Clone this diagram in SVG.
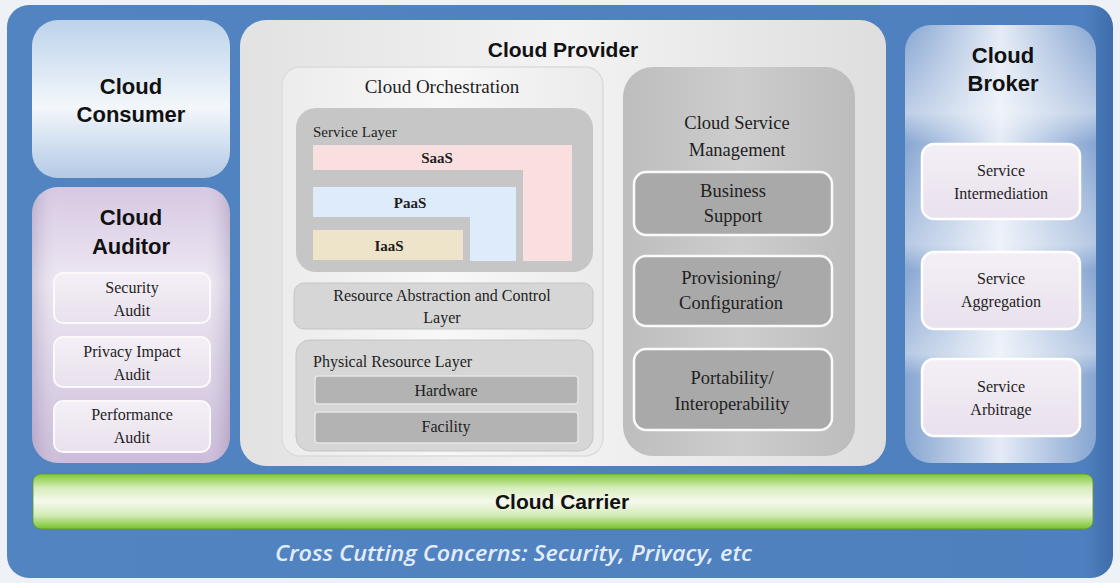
<svg xmlns="http://www.w3.org/2000/svg" width="1120" height="583" viewBox="0 0 1120 583">
  <style>
    .title { font-family: "Liberation Sans", Arial, sans-serif; font-weight: bold; font-size: 22px; fill: #111; text-anchor: middle; }
    .serif { font-family: "Liberation Serif", "Times New Roman", serif; fill: #1e1e1e; text-anchor: middle; }
    .s15 { font-size: 15px; }
    .s16 { font-size: 16px; }
    .s18 { font-size: 18.5px; }
    .s19 { font-size: 19px; }
    .bold { font-weight: bold; }
    .start { text-anchor: start; }
    .subA { fill: url(#gSubLav); stroke: #fbf9fc; stroke-width: 2; }
    .subB { fill: url(#gSubLav); stroke: #ffffff; stroke-width: 2.5; }
    .csm { fill: #a9a9a9; stroke: #fafafa; stroke-width: 2.5; }
    .phys { fill: #b3b3b3; stroke: #e6e6e6; stroke-width: 1.5; }
  </style>
  <defs>
    <linearGradient id="gConsumer" x1="0" y1="0" x2="0" y2="1">
      <stop offset="0" stop-color="#bcd3ea"/>
      <stop offset="0.55" stop-color="#f3f7fb"/>
      <stop offset="1" stop-color="#b3cae5"/>
    </linearGradient>
    <linearGradient id="gAuditor" x1="0" y1="0" x2="0" y2="1">
      <stop offset="0" stop-color="#d6c8e2"/>
      <stop offset="0.35" stop-color="#eee8f3"/>
      <stop offset="1" stop-color="#cbbcd9"/>
    </linearGradient>
    <linearGradient id="gEdge" x1="0" y1="0" x2="1" y2="0">
      <stop offset="0" stop-color="#6f5f8f" stop-opacity="0.25"/>
      <stop offset="0.15" stop-color="#ffffff" stop-opacity="0"/>
      <stop offset="0.85" stop-color="#ffffff" stop-opacity="0"/>
      <stop offset="1" stop-color="#6f5f8f" stop-opacity="0.25"/>
    </linearGradient>
    <linearGradient id="gBroker" x1="0" y1="0" x2="1" y2="0">
      <stop offset="0" stop-color="#87a6d2"/>
      <stop offset="0.5" stop-color="#e4ebf6"/>
      <stop offset="1" stop-color="#86a5d1"/>
    </linearGradient>
    <linearGradient id="gBands" x1="0" y1="0" x2="0" y2="1">
      <stop offset="0" stop-color="#ffffff" stop-opacity="0"/>
      <stop offset="0.2" stop-color="#ffffff" stop-opacity="0.45"/>
      <stop offset="0.27" stop-color="#ffffff" stop-opacity="0"/>
      <stop offset="0.5" stop-color="#ffffff" stop-opacity="0.4"/>
      <stop offset="0.56" stop-color="#ffffff" stop-opacity="0"/>
      <stop offset="0.75" stop-color="#ffffff" stop-opacity="0.4"/>
      <stop offset="0.8" stop-color="#ffffff" stop-opacity="0"/>
      <stop offset="1" stop-color="#ffffff" stop-opacity="0"/>
    </linearGradient>
    <linearGradient id="gProvider" x1="0" y1="0" x2="1" y2="0">
      <stop offset="0" stop-color="#e2e2e2"/>
      <stop offset="0.5" stop-color="#f3f3f3"/>
      <stop offset="1" stop-color="#dedede"/>
    </linearGradient>
    <linearGradient id="gOrch" x1="0" y1="0" x2="1" y2="0">
      <stop offset="0" stop-color="#ececec"/>
      <stop offset="0.5" stop-color="#f8f8f8"/>
      <stop offset="1" stop-color="#ebebeb"/>
    </linearGradient>
    <linearGradient id="gCsm" x1="0" y1="0" x2="1" y2="0">
      <stop offset="0" stop-color="#bdbdbd"/>
      <stop offset="0.5" stop-color="#cdcdcd"/>
      <stop offset="1" stop-color="#bcbcbc"/>
    </linearGradient>
    <linearGradient id="gSubLav" x1="0" y1="0" x2="0" y2="1">
      <stop offset="0" stop-color="#f4eff6"/>
      <stop offset="1" stop-color="#e9e1ed"/>
    </linearGradient>
    <linearGradient id="gCarrier" x1="0" y1="0" x2="0" y2="1">
      <stop offset="0" stop-color="#80c832"/>
      <stop offset="0.25" stop-color="#d6edbb"/>
      <stop offset="0.5" stop-color="#f6f8ee"/>
      <stop offset="0.75" stop-color="#d3ecb6"/>
      <stop offset="1" stop-color="#78c22a"/>
    </linearGradient>
    <linearGradient id="gPanel" x1="0" y1="0" x2="1" y2="0">
      <stop offset="0" stop-color="#5384c2"/>
      <stop offset="0.975" stop-color="#4e7fbe"/>
      <stop offset="1" stop-color="#3f6dab"/>
    </linearGradient>
  </defs>

  <!-- page and blue frame -->
  <rect x="0" y="0" width="1120" height="583" fill="#eef1f6"/>
  <rect x="7" y="5" width="1106" height="573" rx="22" fill="url(#gPanel)"/>

  <!-- Cloud Consumer -->
  <g id="consumer">
    <rect x="32" y="20" width="198" height="158" rx="26" fill="url(#gConsumer)"/>
    <text class="title" x="131" y="94">Cloud</text>
    <text class="title" x="131" y="122">Consumer</text>
  </g>

  <!-- Cloud Auditor -->
  <g id="auditor">
    <rect x="32" y="187" width="198" height="276" rx="26" fill="url(#gAuditor)"/>
    <rect x="32" y="187" width="198" height="276" rx="26" fill="url(#gEdge)"/>
    <text class="title" x="131" y="225">Cloud</text>
    <text class="title" x="131" y="254">Auditor</text>
    <g id="security-audit">
      <rect class="subA" x="54" y="273" width="156" height="50" rx="9"/>
      <text class="serif s16" x="132" y="293">Security</text>
      <text class="serif s16" x="132" y="316">Audit</text>
    </g>
    <g id="privacy-audit">
      <rect class="subA" x="54" y="337" width="156" height="50" rx="9"/>
      <text class="serif s16" x="132" y="357">Privacy Impact</text>
      <text class="serif s16" x="132" y="380">Audit</text>
    </g>
    <g id="performance-audit">
      <rect class="subA" x="54" y="401" width="156" height="51" rx="9"/>
      <text class="serif s16" x="132" y="420">Performance</text>
      <text class="serif s16" x="132" y="443">Audit</text>
    </g>
  </g>

  <!-- Cloud Provider -->
  <g id="provider">
    <rect x="240" y="20" width="646" height="446" rx="26" fill="url(#gProvider)"/>
    <text class="title" x="563" y="57" style="font-size:21px">Cloud Provider</text>

    <g id="orchestration">
      <rect x="282" y="67" width="321" height="389" rx="18" fill="url(#gOrch)" stroke="#dcdcdc" stroke-width="1.5"/>
      <text class="serif s19" x="442" y="93">Cloud Orchestration</text>

      <g id="service-layer">
        <rect x="296" y="108" width="297" height="164" rx="20" fill="#c6c6c6"/>
        <text class="serif s15 start" x="313" y="137">Service Layer</text>
        <path id="saas" d="M313 145 H572 V261 H523 V170 H313 Z" fill="#f9dfdf"/>
        <text class="serif s15 bold" x="437" y="163">SaaS</text>
        <path id="paas" d="M313 187 H516 V261 H470 V217 H313 Z" fill="#ddebfa"/>
        <text class="serif s15 bold" x="410" y="208">PaaS</text>
        <rect id="iaas" x="313" y="230" width="150" height="30" fill="#ede4c9"/>
        <text class="serif s15 bold" x="389" y="251">IaaS</text>
      </g>

      <g id="resource-abstraction">
        <rect x="294" y="283" width="299" height="46" rx="10" fill="#d6d6d6" stroke="#c4c4c4" stroke-width="1"/>
        <text class="serif s16" x="442" y="301">Resource Abstraction and Control</text>
        <text class="serif s16" x="442" y="323">Layer</text>
      </g>

      <g id="physical-layer">
        <rect x="296" y="340" width="297" height="111" rx="14" fill="#d6d6d6" stroke="#c4c4c4" stroke-width="1"/>
        <text class="serif s16 start" x="313" y="367">Physical Resource Layer</text>
        <g id="hardware">
          <rect class="phys" x="315" y="376" width="263" height="28" rx="3"/>
          <text class="serif s16" x="446" y="396">Hardware</text>
        </g>
        <g id="facility">
          <rect class="phys" x="315" y="412" width="263" height="31" rx="3"/>
          <text class="serif s16" x="446" y="432">Facility</text>
        </g>
      </g>
    </g>

    <g id="service-management">
      <rect x="623" y="67" width="232" height="389" rx="30" fill="url(#gCsm)"/>
      <text class="serif s18" x="737" y="129">Cloud Service</text>
      <text class="serif s18" x="737" y="156">Management</text>
      <g id="business-support">
        <rect class="csm" x="634" y="172" width="198" height="63" rx="12"/>
        <text class="serif s18" x="733" y="197">Business</text>
        <text class="serif s18" x="733" y="222">Support</text>
      </g>
      <g id="provisioning">
        <rect class="csm" x="634" y="256" width="198" height="70" rx="12"/>
        <text class="serif s18" x="731" y="284">Provisioning/</text>
        <text class="serif s18" x="731" y="309">Configuration</text>
      </g>
      <g id="portability">
        <rect class="csm" x="634" y="349" width="198" height="81" rx="12"/>
        <text class="serif s18" x="732" y="384">Portability/</text>
        <text class="serif s18" x="732" y="410">Interoperability</text>
      </g>
    </g>
  </g>

  <!-- Cloud Broker -->
  <g id="broker">
    <rect x="905" y="25" width="191" height="438" rx="26" fill="url(#gBroker)"/>
    <rect x="905" y="25" width="191" height="438" rx="26" fill="url(#gBands)"/>
    <text class="title" x="1003" y="63">Cloud</text>
    <text class="title" x="1003" y="91">Broker</text>
    <g id="intermediation">
      <rect class="subB" x="922" y="144" width="158" height="75" rx="12"/>
      <text class="serif s16" x="1001" y="176">Service</text>
      <text class="serif s16" x="1001" y="199">Intermediation</text>
    </g>
    <g id="aggregation">
      <rect class="subB" x="922" y="252" width="158" height="77" rx="12"/>
      <text class="serif s16" x="1001" y="284">Service</text>
      <text class="serif s16" x="1001" y="307">Aggregation</text>
    </g>
    <g id="arbitrage">
      <rect class="subB" x="922" y="359" width="158" height="77" rx="12"/>
      <text class="serif s16" x="1001" y="392">Service</text>
      <text class="serif s16" x="1001" y="415">Arbitrage</text>
    </g>
  </g>

  <!-- Cloud Carrier -->
  <g id="carrier">
    <rect x="33" y="474" width="1060" height="55" rx="8" fill="url(#gCarrier)" stroke="#5e9a25" stroke-width="0.8"/>
    <text class="title" x="562" y="509" style="font-size:21px">Cloud Carrier</text>
  </g>

  <!-- cross cutting band -->
  <text x="275" y="561" textLength="477" lengthAdjust="spacingAndGlyphs" style="font-family:'Open Sans','Liberation Sans',sans-serif;font-style:italic;font-weight:600;font-size:21px;fill:#e3ecfb">Cross Cutting Concerns: Security, Privacy, etc</text>

  <!-- connectors: none in this layout -->
  <g id="connectors"/>
</svg>
